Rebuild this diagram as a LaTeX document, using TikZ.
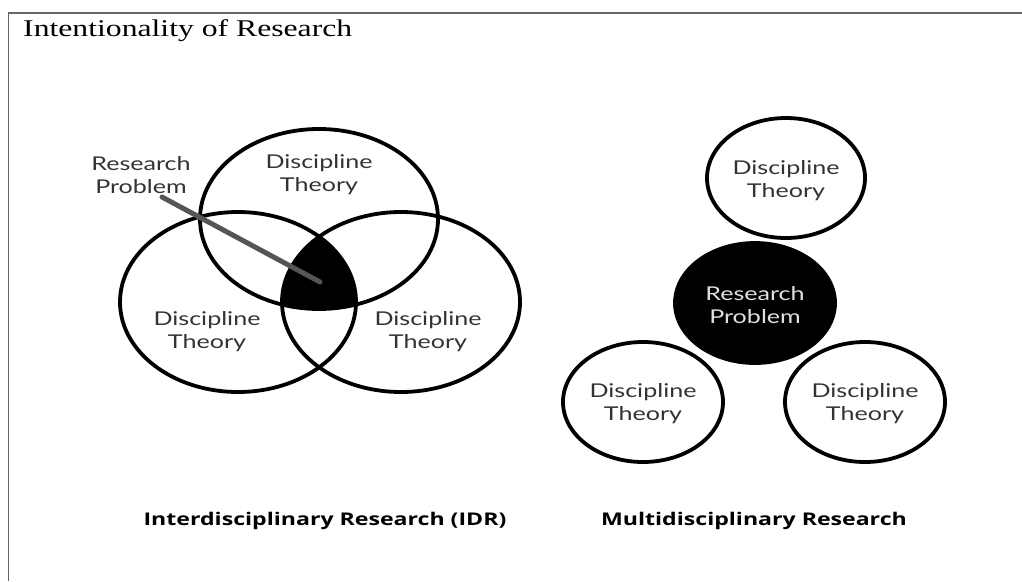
\documentclass[tikz,border=0pt]{standalone}
\usepackage{fontspec}
\usetikzlibrary{shapes.geometric}
\newfontfamily\titlefont{Liberation Serif}[FakeStretch=1.32]
\newfontfamily\dfont{Lato}[FakeStretch=1.32]
\newfontfamily\bfont{Open Sans}[FakeStretch=1.32]
\definecolor{framegray}{HTML}{666666}
\definecolor{txtgray}{HTML}{333333}
\definecolor{linegray}{HTML}{555555}
\begin{document}
\begin{tikzpicture}[x=1pt,y=-1pt,
  ring/.style={draw=black,line width=3.8pt},
  disc/.style={font=\dfont\fontsize{19}{23}\selectfont,text=txtgray,align=center,inner sep=0pt},
  caption/.style={font=\bfont\bfseries\fontsize{17.5}{20}\selectfont,inner sep=0pt},
  framel/.style={draw=framegray,line width=1.8pt}]
\useasboundingbox (0,0) rectangle (1022,581);
% frame (top and left edges)
\coordinate (ftl) at (8.5,13);
\coordinate (ftr) at (1022,13);
\coordinate (fbl) at (8.5,581);
\draw[framel] (ftr) -- (ftl) -- (fbl);
\node[anchor=base west,inner sep=0pt,font=\titlefont\fontsize{24}{28}\selectfont] (title) at (23,36) {Intentionality of Research};

% ---- IDR Venn diagram ----
\begin{scope}
  \clip (319,219) ellipse [x radius=119pt, y radius=90pt];
  \clip (238,302) ellipse [x radius=118pt, y radius=90pt];
  \fill[black] (401,302) ellipse [x radius=119pt, y radius=90pt];
\end{scope}
\draw[ring] (319,219) ellipse [x radius=119pt, y radius=90pt];
\draw[ring] (238,302) ellipse [x radius=118pt, y radius=90pt];
\draw[ring] (401,302) ellipse [x radius=119pt, y radius=90pt];

\node[disc] (vtop) at (319,175) {Discipline\\Theory};
\node[disc] (vleft) at (207,332) {Discipline\\Theory};
\node[disc] (vright) at (428,332) {Discipline\\Theory};
\node[disc] (rplabel) at (141,175) {Research\\Problem};
\coordinate (pstart) at (162,197);
\coordinate (pend) at (320,282);
\draw[linegray,line width=5pt,line cap=round] (pstart) -- (pend);

\node[caption] (idr) at (325,521) {Interdisciplinary Research (IDR)};

% ---- Multidisciplinary ----
\node[ring,ellipse,minimum width=158pt,minimum height=120pt,inner sep=0pt] (mtop) at (786,178) {};
\node[ring,ellipse,fill=black,minimum width=160pt,minimum height=120pt,inner sep=0pt] (mrp) at (755,303) {};
\node[ring,ellipse,minimum width=160pt,minimum height=120pt,inner sep=0pt] (mbl) at (643,402) {};
\node[ring,ellipse,minimum width=160pt,minimum height=120pt,inner sep=0pt] (mbr) at (865,402) {};
\node[disc] at ([yshift=-3pt]mtop.center) {Discipline\\Theory};
\node[disc,text=white!88!black] at ([yshift=-2pt]mrp.center) {Research\\Problem};
\node[disc] at ([yshift=-2pt]mbl.center) {Discipline\\Theory};
\node[disc] at ([yshift=-2pt]mbr.center) {Discipline\\Theory};

\node[caption] (multi) at (754,521) {Multidisciplinary Research};
\end{tikzpicture}
\end{document}
